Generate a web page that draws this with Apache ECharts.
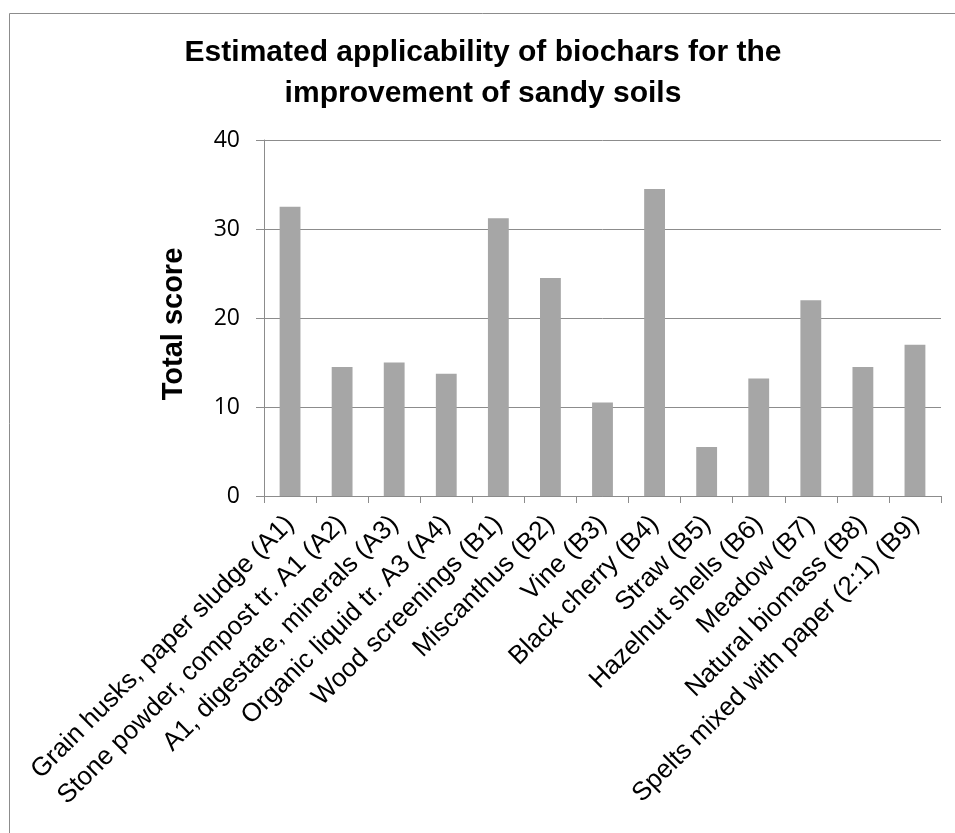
<!DOCTYPE html>
<html>
<head>
<meta charset="utf-8">
<script src="https://cdn.jsdelivr.net/npm/echarts@6/dist/echarts.min.js"></script>
<style>
    html, body { margin: 0; padding: 0; background: #fff; }
    #mainChart { width: 955px; height: 833px; }
</style>
</head>
<body>
<div id="mainChart"></div>
<script>
var categories = [
    "Grain husks, paper sludge (A1)",
    "Stone powder, compost tr. A1 (A2)",
    "A1, digestate, minerals (A3)",
    "Organic liquid tr. A3 (A4)",
    "Wood screenings (B1)",
    "Miscanthus (B2)",
    "Vine (B3)",
    "Black cherry (B4)",
    "Straw (B5)",
    "Hazelnut shells (B6)",
    "Meadow (B7)",
    "Natural biomass (B8)",
    "Spelts mixed with paper (2:1) (B9)"
];
var scores = [32.5, 14.5, 15, 13.75, 31.2, 24.5, 10.5, 34.5, 5.5, 13.2, 22, 14.5, 17];
var yTicks = [0, 10, 20, 30, 40];

var n = echarts.init(document.getElementById("mainChart"));
n.setOption({
    backgroundColor: "#fff",
    animation: false,
    title: {
        text: "Estimated applicability of biochars for the\nimprovement of sandy soils",
        left: 478,
        top: 27,
        textAlign: "center",
        textStyle: {
            color: "#000",
            fontSize: 30,
            fontWeight: "bold",
            fontFamily: "Liberation Sans",
            lineHeight: 41
        }
    },
    graphic: [{
        type: "rect",
        shape: { x: 9.5, y: 13.5, width: 1000, height: 1000 },
        style: { fill: "none", stroke: "#8c8c8c", lineWidth: 1 },
        silent: true
    }],
    grid: { left: 264, right: 14, top: 140, bottom: 337 },
    xAxis: {
        type: "category",
        data: categories,
        axisLine: { lineStyle: { color: "#8c8c8c", width: 1 } },
        axisTick: { show: true, length: 7, lineStyle: { color: "#8c8c8c" } },
        axisLabel: {
            interval: 0,
            rotate: 45,
            margin: 24,
            color: "#000",
            fontSize: 26,
            fontFamily: "Liberation Sans"
        }
    },
    yAxis: {
        type: "value",
        min: yTicks[0],
        max: yTicks[yTicks.length - 1],
        interval: 10,
        name: "Total score",
        nameLocation: "middle",
        nameGap: 76,
        nameTextStyle: {
            color: "#000", fontSize: 29, fontWeight: "bold", fontFamily: "Liberation Sans",
            padding: [0, 12, 0, 0]
        },
        axisLine: { show: true, lineStyle: { color: "#8c8c8c", width: 1 } },
        axisTick: { show: true, length: 8, lineStyle: { color: "#8c8c8c" } },
        splitLine: { lineStyle: { color: "#8c8c8c", width: 1 } },
        axisLabel: {
            margin: 24,
            color: "#000",
            fontSize: 23,
            fontFamily: "Open Sans"
        }
    },
    series: [{
        name: "Total score",
        type: "bar",
        barWidth: "40%",
        itemStyle: { color: "#a6a6a6" },
        data: scores
    }]
});
</script>
</body>
</html>
